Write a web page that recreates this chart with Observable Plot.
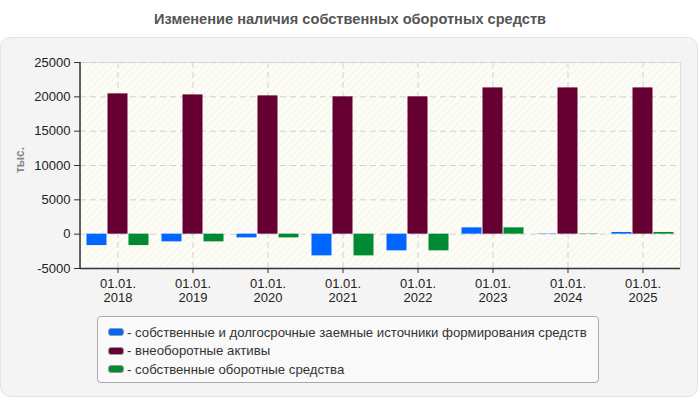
<!DOCTYPE html>
<html>
<head>
<meta charset="utf-8">
<script src="https://cdn.jsdelivr.net/npm/d3@7"></script>
<script src="https://cdn.jsdelivr.net/npm/@observablehq/plot@0.6"></script>
<style>
  body { margin: 0; background: #ffffff; font-family: "Liberation Sans", Arial, sans-serif; }
  #root { position: relative; width: 700px; height: 400px; overflow: hidden; }
  #title { position: absolute; left: 0; top: 11px; width: 700px; text-align: center; font-weight: bold; font-size: 14.6px; color: #555; }
  #panel { position: absolute; left: 0; top: 37px; width: 696px; height: 358px; background: #f4f4f4; border: 1px solid #e4e4e4; border-radius: 10px; }
  #chart { position: absolute; left: 0; top: 0; }
  #ylab { position: absolute; left: 20px; top: 160px; transform: translate(-50%, -50%) rotate(-90deg); font-size: 12px; font-weight: bold; color: #888; }
  #legend { position: absolute; left: 97px; top: 316px; width: 502px; height: 67px; box-sizing: border-box; background: #f9f9f9; border: 1px solid #aaa; border-radius: 4px; padding: 6px 0 0 10px; }
  .item { display: flex; align-items: center; height: 18.5px; font-size: 13.2px; color: #333; }
  .sw { width: 16px; height: 8px; border-radius: 3px; margin-right: 3px; border: 1px solid #999; box-sizing: border-box; }
</style>
</head>
<body>
<div id="root">
  <div id="title">Изменение наличия собственных оборотных средств</div>
  <div id="panel"></div>
  <div id="ylab">тыс.</div>
  <div id="chart"></div>
  <div id="legend"></div>
</div>
<script>
const dates = ["01.01.\n2018", "01.01.\n2019", "01.01.\n2020", "01.01.\n2021", "01.01.\n2022", "01.01.\n2023", "01.01.\n2024", "01.01.\n2025"];
const seriesNames = [
  "собственные и долгосрочные заемные источники формирования средств",
  "внеоборотные активы",
  "собственные оборотные средства"
];
const seriesColors = ["#0066ff", "#660033", "#008a32"];
const sources = [-1660, -1120, -540, -3160, -2430, 920, 50, 250];
const nonCurrent = [20430, 20280, 20140, 20000, 20000, 21300, 21300, 21300];
const ownCurrent = [-1660, -1120, -540, -3160, -2430, 920, 50, 250];
const yTicks = [-5000, 0, 5000, 10000, 15000, 20000, 25000];

const rows = (vals, s) => dates.map((d, i) => ({date: d, value: vals[i], series: s}));
const allSeries = [rows(sources, 0), rows(nonCurrent, 1), rows(ownCurrent, 2)];
const offsets = [-21, 0, 21];
const pInner = 55 / 75;

const plot = Plot.plot({
  width: 700,
  height: 310,
  marginTop: 62,
  marginBottom: 42,
  marginLeft: 80,
  marginRight: 20,
  style: {background: "transparent", fontFamily: "Liberation Sans, Arial, sans-serif", fontSize: "13px", color: "#222", overflow: "visible"},
  x: {domain: dates, paddingInner: pInner, paddingOuter: pInner / 2, round: false, label: null},
  y: {domain: [-5000, 25000], label: null},
  marks: [
    Plot.frame({fill: "url(#hatch)", stroke: "#dddddd"}),
    Plot.gridY(yTicks, {stroke: "#d0d0d0", strokeOpacity: 1, strokeDasharray: "6,4"}),
    Plot.gridX(dates, {stroke: "#d0d0d0", strokeOpacity: 1, strokeDasharray: "6,4"}),
    ...allSeries.map((data, s) => Plot.barY(data, {x: "date", y: "value", fill: seriesColors[s], dx: offsets[s]})),
    Plot.axisY(yTicks, {tickSize: 6, tickPadding: 4, tickFormat: d => String(d), fontSize: 13, stroke: "#333", fill: "#222", label: null}),
    Plot.axisX({tickSize: 5, tickPadding: 4, fontSize: 13, lineHeight: 1.1, stroke: "#333", fill: "#222", label: null}),
    Plot.ruleY([-5000], {stroke: "#333", strokeWidth: 1.5}),
  ]
});

const ns = "http://www.w3.org/2000/svg";
const defs = document.createElementNS(ns, "defs");
defs.innerHTML = `
  <pattern id="hatch" patternUnits="userSpaceOnUse" width="5" height="5" patternTransform="rotate(45)">
    <rect width="5" height="5" fill="#fdfdf6"/>
    <line x1="0" y1="0" x2="0" y2="5" stroke="#efefeb" stroke-width="1.2"/>
  </pattern>`;
plot.insertBefore(defs, plot.firstChild);

// left axis line
const ySc = plot.scale("y");
const leftLine = document.createElementNS(ns, "line");
leftLine.setAttribute("x1", 80); leftLine.setAttribute("x2", 80);
leftLine.setAttribute("y1", ySc.apply(25000)); leftLine.setAttribute("y2", ySc.apply(-5000));
leftLine.setAttribute("stroke", "#333"); leftLine.setAttribute("stroke-width", 1.5);
plot.appendChild(leftLine);

document.getElementById("chart").appendChild(plot);

const legend = document.getElementById("legend");
seriesNames.forEach((n, i) => {
  const it = document.createElement("div");
  it.className = "item";
  it.innerHTML = `<span class="sw" style="background:${seriesColors[i]}"></span><span>- ${n}</span>`;
  legend.appendChild(it);
});
</script>
</body>
</html>
